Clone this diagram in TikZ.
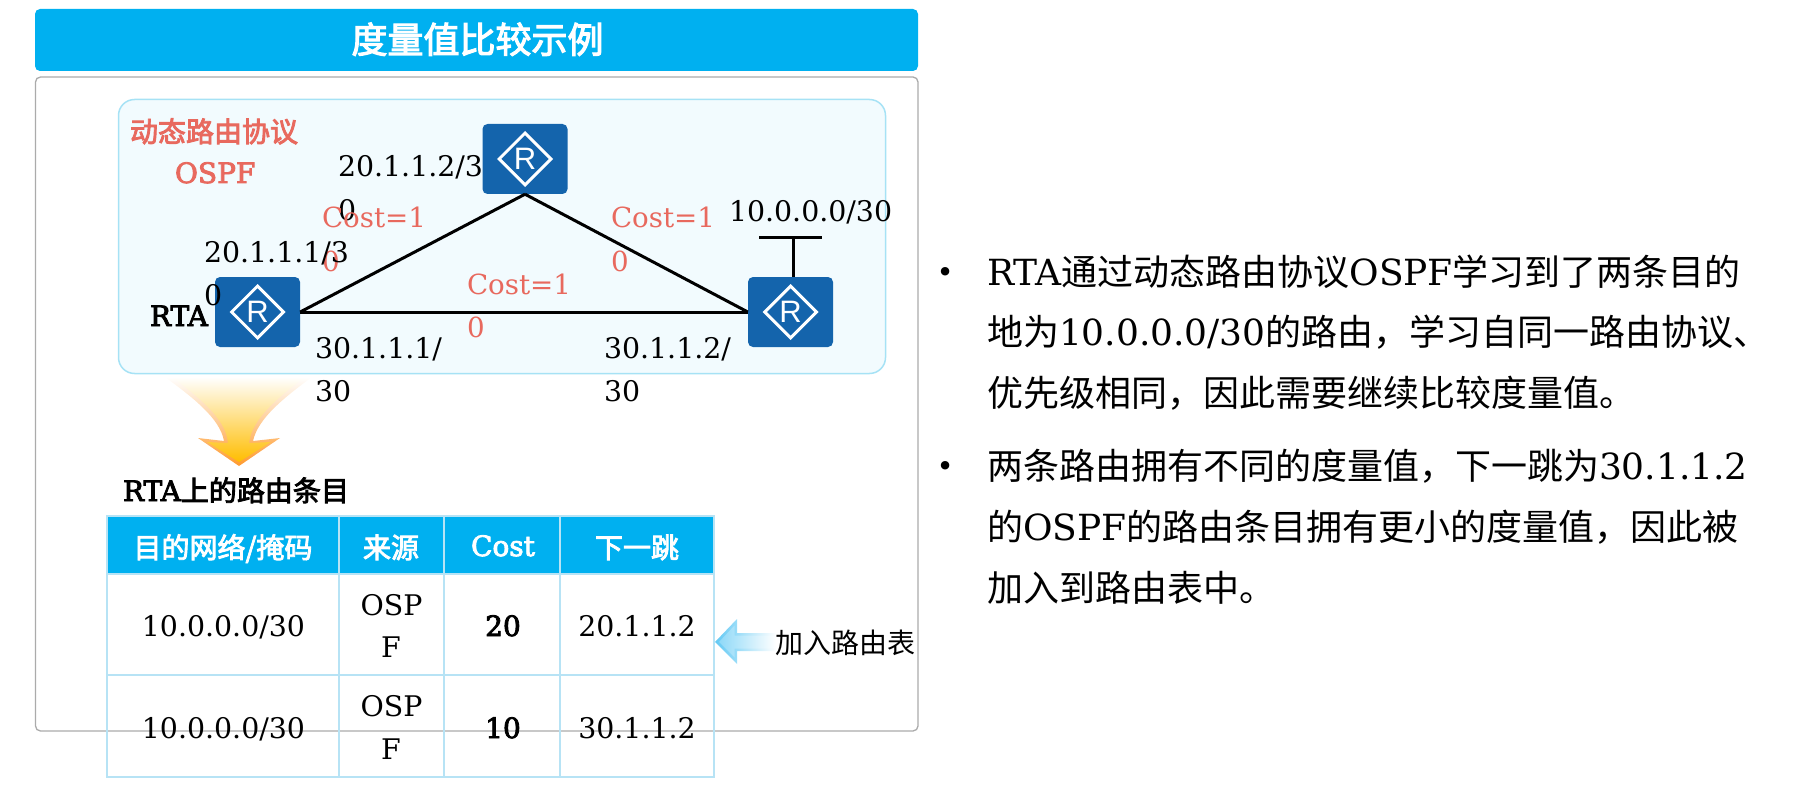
\documentclass[tikz,border=0pt]{standalone}
\usepackage{fontspec}
\usetikzlibrary{shapes.geometric}
\setmainfont[BoldFont=DejaVu Serif,BoldFeatures={FakeBold=3}]{DejaVu Serif}
\newfontfamily\cjk[BoldFont=Noto Sans CJK SC,BoldFeatures={FakeBold=3}]{Noto Sans CJK SC}
\newfontfamily\rfont{Liberation Sans}
\newcommand{\qcomma}{\char"FF0C\relax}
\definecolor{sky}{HTML}{00B0F0}
\definecolor{paneledge}{HTML}{A6E2F5}
\definecolor{panelfill}{HTML}{F2FBFE}
\definecolor{tabedge}{HTML}{B7E3F5}
\definecolor{routerblue}{HTML}{1464AC}
\definecolor{salmon}{HTML}{E8695E}
\definecolor{framegray}{HTML}{ABABAB}
\definecolor{arrowedge}{HTML}{FF9A2E}
\definecolor{arrowfill}{HTML}{FFBD00}
\definecolor{blueedge}{HTML}{62C9F4}
\definecolor{bluefill}{HTML}{8FD9F8}
\tikzset{
  txt/.style={anchor=base west,inner sep=0pt,outer sep=0pt,font=\fontsize{28.4}{28.4}\selectfont},
  redtxt/.style={txt,text=salmon,font=\fontsize{27.7}{27.7}\selectfont},
  ctxt/.style={txt,anchor=base},
  boldtxt/.style={font=\fontsize{28}{28}\selectfont\bfseries},
  headtxt/.style={ctxt,text=white,boldtxt},
  bodytxt/.style={txt,font=\fontsize{36}{36}\selectfont},
  bullettxt/.style={txt,font=\fontsize{29}{29}\selectfont},
  routerbox/.style={draw=none,fill=routerblue,rounded corners=5pt,minimum width=85pt,minimum height=70pt,inner sep=0pt},
  routericon/.style={diamond,draw=white,line width=3pt,minimum width=53pt,minimum height=53pt,inner sep=0pt,aspect=1,text=white,font=\rfont\fontsize{31}{31}\selectfont},
  netline/.style={draw=black,line width=3pt},
  tabline/.style={draw=tabedge,line width=2pt},
}
\begin{document}
\begin{tikzpicture}[x=1pt,y=-1pt]
\useasboundingbox (0,0) rectangle (1814,805);
% frame and title
\draw[framegray,line width=1.3pt,rounded corners=5pt] (35.5,77) rectangle (918,731);
\node[fill=sky,rounded corners=5pt,minimum width=883pt,minimum height=62pt,inner sep=0pt] (titlebar) at (476.5,40) {};
\node[ctxt,text=white,font=\fontsize{36}{36}\selectfont\bfseries] (title) at (477.5,53) {\cjk 度量值比较示例};
% network panel
\draw[paneledge,fill=panelfill,line width=1.5pt,rounded corners=16pt] (118.5,99.5) rectangle (885.5,373.5);
\node[routerbox] (rta) at (257.5,312) {};
\node[routerbox] (rtb) at (525,159) {};
\node[routerbox] (rtc) at (790.5,312) {};
\node[routericon] (rtaicon) at (rta.center) {R};
\node[routericon] (rtbicon) at (rtb.center) {R};
\node[routericon] (rtcicon) at (rtc.center) {R};
\draw[netline] (rta.east) -- (rtb.south);
\draw[netline] (rtb.south) -- (rtc.west);
\draw[netline] (rta.east) -- (rtc.west);
\coordinate (stubtop) at (793,237);
\coordinate (barl) at (759,237);
\coordinate (barr) at (822,237);
\draw[netline] (stubtop) -- (stubtop |- rtc.north);
\draw[netline] (barl) -- (barr);
% labels
\node[redtxt,boldtxt] (proto) at (130,142) {\cjk 动态路由协议};
\node[redtxt,boldtxt] (ospf) at (175,183) {OSPF};
\node[txt] (ipb) at (338,177) {20.1.1.2/3};
\node[txt] (ipbz) at (338,220) {0};
\node[redtxt] (costl) at (322,227) {Cost=1};
\node[redtxt] (costlz) at (322,271) {0};
\node[txt] (ipa) at (204,262) {20.1.1.1/3};
\node[txt] (ipaz) at (204,305) {0};
\node[txt,boldtxt] (rtalabel) at (150,326) {RTA};
\node[redtxt] (costr) at (611,227) {Cost=1};
\node[redtxt] (costrz) at (611,271) {0};
\node[redtxt] (costm) at (467,294) {Cost=1};
\node[redtxt] (costmz) at (467,337) {0};
\node[txt] (dest) at (729,222) {10.0.0.0/30};
\node[txt] (ipc) at (315,358) {30.1.1.1/};
\node[txt] (ipcz) at (315,401) {30};
\node[txt] (ipd) at (604,358) {30.1.1.2/};
\node[txt] (ipdz) at (604,401) {30};
% orange arrow
\shade[top color=white,bottom color=arrowedge] (165,377) .. controls (192,397) and (220,418) .. (224,441) -- (198,438) -- (239,466) -- (280,438) -- (253,441) .. controls (258,418) and (285,397) .. (312,377) -- cycle;
\shade[top color=white,bottom color=arrowfill] (172,377) .. controls (198,397) and (226,418) .. (228,443) -- (207,442) -- (239,462) -- (271,442) -- (249,443) .. controls (252,418) and (279,397) .. (305,377) -- cycle;
\node[txt,boldtxt] (tabtitle) at (123,501) {RTA{\cjk 上的路由条目}};
% table
\fill[sky] (107,516) rectangle (714,574);
\draw[tabline] (107,516) rectangle (714,777);
\draw[tabline] (107,574) -- (714,574);
\draw[tabline] (107,675) -- (714,675);
\draw[tabline] (339,516) -- (339,777);
\draw[tabline] (444,516) -- (444,777);
\draw[tabline] (560,516) -- (560,777);
\node[headtxt] (h1) at (223,558) {\cjk 目的网络/掩码};
\node[headtxt] (h2) at (391,558) {\cjk 来源};
\node[headtxt] (h3) at (503,556) {Cost};
\node[headtxt] (h4) at (637,558) {\cjk 下一跳};
\node[ctxt] (c11) at (223.5,636) {10.0.0.0/30};
\node[ctxt] (c12a) at (391.5,615) {OSP};
\node[ctxt] (c12b) at (391,657) {F};
\node[ctxt,boldtxt] (c13) at (503,636) {20};
\node[ctxt] (c14) at (637,636) {20.1.1.2};
\node[ctxt] (c21) at (223.5,738) {10.0.0.0/30};
\node[ctxt] (c22a) at (391.5,716) {OSP};
\node[ctxt] (c22b) at (391,759) {F};
\node[ctxt,boldtxt] (c23) at (503,738) {10};
\node[ctxt] (c24) at (637,738) {30.1.1.2};
% blue arrow
\shade[left color=blueedge,right color=white] (715,642) -- (737,619) -- (737,633) -- (776,633) -- (776,651) -- (737,651) -- (737,664) -- cycle;
\shade[left color=bluefill,right color=white] (719,642) -- (734.5,625.5) -- (734.5,635.5) -- (776,635.5) -- (776,648.5) -- (734.5,648.5) -- (734.5,657.5) -- cycle;
\node[txt,font=\fontsize{28}{28}\selectfont] (addlabel) at (775,653) {\cjk 加入路由表};
% body
\node[bullettxt] (bul1) at (936.5,282.5) {•};
\node[bodytxt] (l1) at (987,285) {RTA{\cjk 通过动态路由协议}OSPF{\cjk 学习到了两条目的}};
\node[bodytxt] (l2) at (987,345) {{\cjk 地为}10.0.0.0/30{\cjk 的路由\qcomma 学习自同一路由协议、}};
\node[bodytxt] (l3) at (987,406) {\cjk 优先级相同\qcomma 因此需要继续比较度量值。};
\node[bullettxt] (bul2) at (936.5,476.5) {•};
\node[bodytxt] (l4) at (987,479) {{\cjk 两条路由拥有不同的度量值\qcomma 下一跳为}30.1.1.2};
\node[bodytxt] (l5) at (987,540) {{\cjk 的}OSPF{\cjk 的路由条目拥有更小的度量值\qcomma 因此被}};
\node[bodytxt] (l6) at (987,601) {\cjk 加入到路由表中。};
\end{tikzpicture}
\end{document}
